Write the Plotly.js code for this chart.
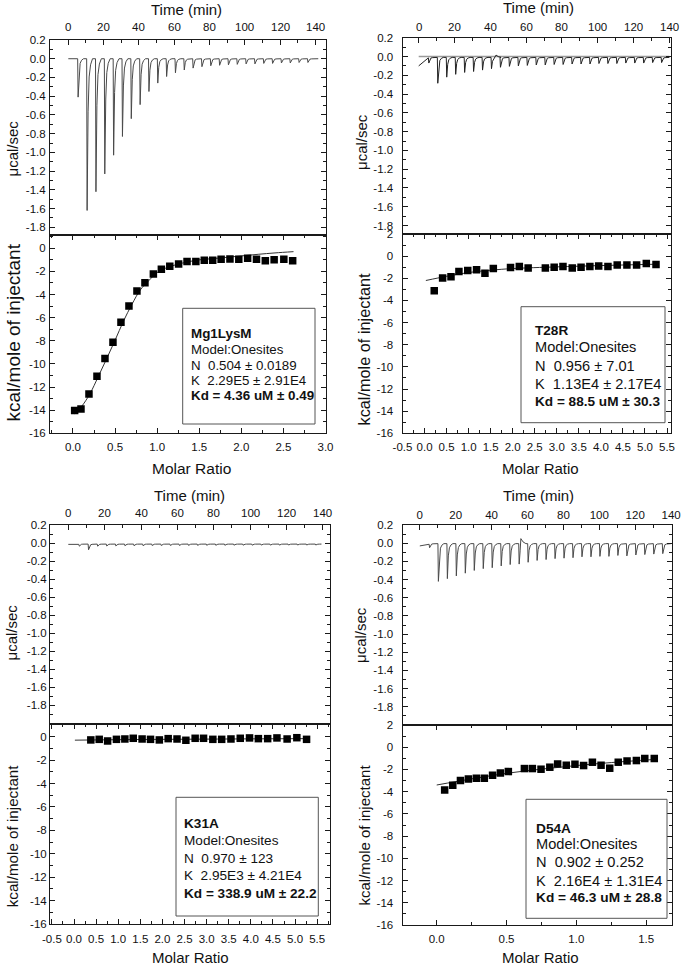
<!DOCTYPE html>
<html><head><meta charset="utf-8">
<script src="https://cdn.plot.ly/plotly-3.0.1.min.js"></script>
<style>html,body{margin:0;padding:0;background:#fff;overflow:hidden}#chart{width:682px;height:967px}</style>
</head><body><div id="chart"></div>
<script>
// ---------------- DATA ----------------
// Raw thermograms (time in min, heat rate in ucal/sec)
const injT1 = [5.3,10.4,15.4,20.4,25.4,30.4,35.4,40.4,45.4,50.4,55.4,60.4,65.4,70.4,75.4,80.4,85.4,90.4,95.4,100.4,105.4,110.4,115.4,120.4,125.4,130.4,135.4];
const peak1 = [-0.41,-1.62,-1.42,-1.23,-1.03,-0.83,-0.64,-0.49,-0.35,-0.26,-0.19,-0.15,-0.12,-0.10,-0.085,-0.075,-0.07,-0.065,-0.06,-0.055,-0.055,-0.05,-0.05,-0.045,-0.045,-0.04,-0.04];
const lead1T = [0]; const lead1Y = [0]; const base1 = 0; const end1 = 141.5;
const bump1T = []; const bump1Y = [];

const injT2 = [5.4,10.4,15.4,20.4,25.4,30.4,35.4,40.4,45.4,50.4,55.4,60.4,65.4,70.4,75.4,80.4,85.4,90.4,95.4,100.4,105.4,110.4,115.4,120.4,125.4,130.4,135.4];
const peak2 = [-0.07,-0.285,-0.22,-0.19,-0.17,-0.16,-0.145,-0.13,-0.115,-0.105,-0.10,-0.095,-0.09,-0.09,-0.085,-0.085,-0.08,-0.08,-0.08,-0.075,-0.075,-0.075,-0.07,-0.07,-0.07,-0.065,-0.065];
const lead2T = [0,5.2]; const lead2Y = [-0.10,-0.015]; const base2 = -0.01; const end2 = 140;
const bump2T = [43.2]; const bump2Y = [0.015];

const injT3 = [5.8,10.9,15.9,20.9,25.9,30.9,35.9,40.9,45.9,50.9,55.9,60.9,65.9,70.9,75.9,80.9,85.9,90.9,95.9,100.9,105.9,110.9,115.9,120.9,125.9,130.9,135.9];
const peak3 = [-0.035,-0.075,-0.035,-0.033,-0.032,-0.03,-0.03,-0.03,-0.028,-0.028,-0.027,-0.027,-0.026,-0.026,-0.025,-0.025,-0.025,-0.024,-0.024,-0.024,-0.023,-0.023,-0.023,-0.022,-0.022,-0.022,-0.022];
const lead3T = [0]; const lead3Y = [-0.015]; const base3 = -0.012; const end3 = 139;
const bump3T = []; const bump3Y = [];

const injT4 = [5.2,10.1,15.1,20.1,25.1,30.1,35.1,40.1,45.1,50.1,55.1,60.1,65.1,70.1,75.1,80.1,85.1,90.1,95.1,100.1,105.1,110.1,115.1,120.1,125.1,130.1,135.1];
const peak4 = [-0.05,-0.42,-0.39,-0.36,-0.33,-0.30,-0.28,-0.27,-0.25,-0.235,-0.23,-0.21,-0.19,-0.18,-0.17,-0.165,-0.16,-0.15,-0.15,-0.145,-0.145,-0.135,-0.14,-0.13,-0.125,-0.12,-0.115];
const lead4T = [0,4.8]; const lead4Y = [-0.03,-0.012]; const base4 = -0.005; const end4 = 140;
const bump4T = [56.3]; const bump4Y = [0.05];

// Integrated heats (molar ratio, kcal/mole of injectant)
const ratio1 = [0.02,0.095,0.19,0.285,0.38,0.475,0.57,0.665,0.76,0.855,0.955,1.05,1.15,1.255,1.355,1.46,1.56,1.66,1.76,1.865,1.97,2.075,2.18,2.285,2.39,2.505,2.61];
const heat1 = [-14.03,-13.9,-12.6,-11.07,-9.54,-8.13,-6.4,-4.99,-3.69,-2.97,-2.22,-1.82,-1.56,-1.35,-1.15,-1.15,-1.04,-1.04,-0.95,-0.92,-0.95,-0.86,-0.95,-1.07,-0.98,-0.95,-1.07];
const fitX1 = [0.02,0.1,0.2,0.3,0.4,0.5,0.6,0.7,0.8,0.9,1.0,1.1,1.2,1.3,1.4,1.5,1.6,1.8,2.0,2.2,2.4,2.62];
const fitY1 = [-14.3,-13.7,-12.6,-11.1,-9.55,-7.95,-6.3,-4.85,-3.6,-2.8,-2.1,-1.72,-1.47,-1.28,-1.12,-1.0,-0.93,-0.8,-0.66,-0.52,-0.4,-0.29];

const ratio2 = [0.22,0.41,0.60,0.78,0.98,1.18,1.37,1.56,1.95,2.15,2.35,2.74,2.94,3.14,3.35,3.55,3.75,3.95,4.16,4.37,4.59,4.81,5.03,5.25];
const heat2 = [-3.12,-1.97,-1.85,-1.39,-1.30,-1.24,-1.55,-1.12,-1.03,-0.94,-1.06,-1.06,-1.0,-0.94,-1.06,-1.0,-0.94,-0.88,-0.94,-0.79,-0.79,-0.79,-0.67,-0.76];
const fitX2 = [0.03,0.5,1.0,1.5,2.0,3.0,4.0,5.25];
const fitY2 = [-2.2,-1.82,-1.48,-1.27,-1.12,-0.97,-0.85,-0.73];

const ratio3 = [0.38,0.57,0.76,0.96,1.15,1.34,1.54,1.73,1.93,2.13,2.33,2.53,2.74,2.93,3.14,3.34,3.55,3.76,3.97,4.17,4.38,4.59,4.82,5.04,5.26];
const heat3 = [-0.28,-0.23,-0.37,-0.23,-0.2,-0.14,-0.2,-0.23,-0.28,-0.17,-0.2,-0.31,-0.14,-0.14,-0.23,-0.23,-0.2,-0.14,-0.11,-0.17,-0.17,-0.11,-0.2,-0.09,-0.23];
const fitX3 = [0.02,1.0,2.0,3.0,4.0,5.26];
const fitY3 = [-0.3,-0.26,-0.23,-0.21,-0.19,-0.17];

const ratio4 = [0.057,0.115,0.17,0.227,0.284,0.341,0.40,0.456,0.513,0.628,0.685,0.747,0.81,0.866,0.928,0.99,1.052,1.115,1.177,1.239,1.30,1.363,1.43,1.49,1.558];
const heat4 = [-3.84,-3.42,-3.0,-2.85,-2.79,-2.79,-2.52,-2.31,-2.19,-1.92,-1.92,-1.98,-1.80,-1.50,-1.62,-1.53,-1.65,-1.35,-1.62,-1.89,-1.35,-1.23,-1.20,-1.02,-1.02];
const fitX4 = [0.0,0.25,0.5,0.75,1.0,1.25,1.56];
const fitY4 = [-3.4,-2.85,-2.35,-1.97,-1.65,-1.38,-1.1];

// Fit result labels
const box1 = ["<b>Mg1LysM</b>","Model:Onesites","N\u00a0 0.504 ± 0.0189","K\u00a0 2.29E5 ± 2.91E4","<b>Kd = 4.36 uM ± 0.49</b>"];
const box2 = ["<b>T28R</b>","Model:Onesites","N\u00a0 0.956 ± 7.01","K\u00a0 1.13E4 ± 2.17E4","<b>Kd = 88.5 uM ± 30.3</b>"];
const box3 = ["<b>K31A</b>","Model:Onesites","N\u00a0 0.970 ± 123","K\u00a0 2.95E3 ± 4.21E4","<b>Kd = 338.9 uM ± 22.2</b>"];
const box4 = ["<b>D54A</b>","Model:Onesites","N\u00a0 0.902 ± 0.252","K\u00a0 2.16E4 ± 1.31E4","<b>Kd = 46.3 uM ± 28.8</b>"];

// Tick labels
const timeTickVals = [0,20,40,60,80,100,120,140];
const timeTickText = ["0","20","40","60","80","100","120","140"];
const powTickVals = [0.2,0.0,-0.2,-0.4,-0.6,-0.8,-1.0,-1.2,-1.4,-1.6,-1.8];
const powTickText = ["0.2","0.0","-0.2","-0.4","-0.6","-0.8","-1.0","-1.2","-1.4","-1.6","-1.8"];
const heatTickVals = [2,0,-2,-4,-6,-8,-10,-12,-14,-16];
const heatTickText = ["2","0","-2","-4","-6","-8","-10","-12","-14","-16"];
const ratioTickValsA = [0,0.5,1.0,1.5,2.0,2.5,3.0];
const ratioTickTextA = ["0.0","0.5","1.0","1.5","2.0","2.5","3.0"];
const ratioTickValsB = [-0.5,0,0.5,1.0,1.5,2.0,2.5,3.0,3.5,4.0,4.5,5.0,5.5];
const ratioTickTextB = ["-0.5","0.0","0.5","1.0","1.5","2.0","2.5","3.0","3.5","4.0","4.5","5.0","5.5"];
const ratioTickValsC = [0,0.5,1.0,1.5];
const ratioTickTextC = ["0.0","0.5","1.0","1.5"];

const timeTitle = "Time (min)";
const powTitle = "μcal/sec";
const heatTitle = "kcal/mole of injectant";
const ratioTitle = "Molar Ratio";

// ---------------- BUILD ----------------
function thermo(leadT, leadY, injT, peak, base, bumpT, bumpY, tEnd) {
  const xs = leadT.slice(), ys = leadY.slice();
  for (let i = 0; i < injT.length; i++) {
    const t = injT[i], p = peak[i];
    const b0 = (i === 0 && leadY.length) ? leadY[leadY.length - 1] : base;
    xs.push(t); ys.push(b0);
    xs.push(t + 0.25); ys.push(p);
    xs.push(t + 0.8); ys.push(base + (p - base) * 0.35);
    let bi = -1;
    for (let k = 0; k < bumpT.length; k++) if (bumpT[k] > t && bumpT[k] < t + 5) bi = k;
    if (bi >= 0) {
      xs.push(bumpT[bi]); ys.push(bumpY[bi]);
      xs.push(bumpT[bi] + 1.2); ys.push(base + (bumpY[bi] - base) * 0.35);
      xs.push(bumpT[bi] + 2.8); ys.push(base);
    } else {
      xs.push(t + 1.4); ys.push(base + (p - base) * 0.12);
      xs.push(t + 2.2); ys.push(base + (p - base) * 0.04);
      xs.push(t + 3.3); ys.push(base);
    }
  }
  xs.push(tEnd); ys.push(base);
  return {x: xs, y: ys};
}

const W = 682, H = 967;
const FONT = '"Liberation Sans", Arial, Helvetica, sans-serif';
const AX = '#1a1a1a';
const TICK = 11.5;

const panels = [
  {x0:50, x1:325.5, top:40, mid:235, bot:433.3, tR:[-10.36,145.6], uR:[-1.882,0.2], mR:[-0.273,3.0], kR:[-16,1.15],
   mV:ratioTickValsA, mT:ratioTickTextA, ySt:1, tLab:27.3, mSt:3, nativeTime:false,
   th: thermo(lead1T,lead1Y,injT1,peak1,base1,bump1T,bump1Y,end1), rx:ratio1, ry:heat1, fx:fitX1, fy:fitY1, grayBase:false,
   titles:{time:[186.3,9.5], pow:[12.5,149], heat:[12.5,333], ratio:[191.7,468]}, heatSize:19, ratioSize:15.5,
   box:[182.7,308.3,315,424], boxText:box1, textX:189, lines:[333.3,349.3,365,380.5,395.7], boxFont:13.3, boldFont:13.4},
  {x0:402.5, x1:671, top:37.7, mid:234, bot:433.3, tR:[-9.05,140.9], uR:[-1.89,0.2], mR:[-0.5,5.59], kR:[-16,2],
   mV:ratioTickValsB, mT:ratioTickTextB, ySt:6, tLab:27.3, mSt:3, nativeTime:false,
   th: thermo(lead2T,lead2Y,injT2,peak2,base2,bump2T,bump2Y,end2), rx:ratio2, ry:heat2, fx:fitX2, fy:fitY2, grayBase:true,
   titles:{time:[538,7.5], pow:[362,142], heat:[363.5,349], ratio:[540.8,468]}, heatSize:16.3, ratioSize:15,
   box:[521,306.7,665,422.7], boxText:box2, textX:532.7, lines:[330,347.3,366,384,401.7], boxFont:14.6, boldFont:13.6},
  {x0:50, x1:330, top:525, mid:724, bot:924, tR:[-10.07,144.0], uR:[-2.01,0.2], mR:[-0.543,5.79], kR:[-16,1.08],
   mV:ratioTickValsB, mT:ratioTickTextB, ySt:0, tLab:513.3, mSt:4, nativeTime:false,
   th: thermo(lead3T,lead3Y,injT3,peak3,base3,bump3T,bump3Y,end3), rx:ratio3, ry:heat3, fx:fitX3, fy:fitY3, grayBase:false,
   titles:{time:[190,495], pow:[10.5,633], heat:[12.5,835.8], ratio:[190.8,957]}, heatSize:15.2, ratioSize:15,
   box:[176,797.3,318.3,916], boxText:box3, textX:182.3, lines:[823.3,840,858.3,875.7,893.3], boxFont:13.6, boldFont:13.6},
  {x0:402.5, x1:672, top:525, mid:725, bot:925, tR:[-9.64,140.5], uR:[-2.0,0.2], mR:[-0.245,1.685], kR:[-16,2],
   mV:ratioTickValsC, mT:ratioTickTextC, ySt:6, tLab:513.3, mSt:3, nativeTime:true,
   th: thermo(lead4T,lead4Y,injT4,peak4,base4,bump4T,bump4Y,end4), rx:ratio4, ry:heat4, fx:fitX4, fy:fitY4, grayBase:false,
   titles:{time:[538.8,495], pow:[360,635], heat:[363.5,835], ratio:[540.8,957]}, heatSize:15, ratioSize:15,
   box:[526,799.3,667,918.3], boxText:box4, textX:533.7, lines:[828.3,844.3,862.3,880.7,897.3], boxFont:14.6, boldFont:13.7}
];

const px = v => v / W;
const py = v => 1 - v / H;

const data = [];
const layout = {
  width: W, height: H, margin: {l:0, r:0, t:0, b:0}, showlegend: false,
  paper_bgcolor: '#fff', plot_bgcolor: 'rgba(0,0,0,0)',
  font: {family: FONT, color: '#111'},
  annotations: [], shapes: []
};

function axisBase(extra) {
  return Object.assign({
    showline: true, linecolor: AX, linewidth: 1, mirror: 'ticks',
    ticks: 'inside', ticklen: 5, tickwidth: 1, tickcolor: AX,
    showgrid: false, zeroline: false, fixedrange: true,
    tickfont: {family: FONT, size: TICK, color: '#111'},
    tickmode: 'array', ticklabeloverflow: 'allow'
  }, extra);
}

panels.forEach((p, i) => {
  const a = 2 * i + 1, b = 2 * i + 2;
  const xa = 'x' + (a === 1 ? '' : a), ya = 'y' + (a === 1 ? '' : a);
  const xb = 'x' + b, yb = 'y' + b;
  const dom = [px(p.x0), px(p.x1)];

  layout['xaxis' + (a === 1 ? '' : a)] = axisBase({
    domain: dom, anchor: ya, side: 'top', range: p.tR, mirror: true,
    tickvals: timeTickVals, ticktext: timeTickText, showticklabels: p.nativeTime,
    minor: {tickmode: 'linear', tick0: 0, dtick: 10, ticks: 'inside', ticklen: 3, tickcolor: AX, showgrid: false}
  });
  layout['yaxis' + (a === 1 ? '' : a)] = axisBase({
    domain: [py(p.mid), py(p.top)], anchor: xa, range: p.uR,
    tickvals: powTickVals, ticktext: powTickText, ticklabelstandoff: p.ySt,
    minor: {tickmode: 'linear', tick0: 0, dtick: 0.1, ticks: 'inside', ticklen: 3, tickcolor: AX, showgrid: false}
  });
  layout['xaxis' + b] = axisBase({
    domain: dom, anchor: yb, side: 'bottom', range: p.mR,
    tickvals: p.mV, ticktext: p.mT, ticklabelstandoff: p.mSt,
    minor: {tickmode: 'linear', tick0: 0, dtick: 0.25, ticks: 'inside', ticklen: 3, tickcolor: AX, showgrid: false}
  });
  layout['yaxis' + b] = axisBase({
    domain: [py(p.bot), py(p.mid)], anchor: xb, range: p.kR,
    tickvals: heatTickVals, ticktext: heatTickText, ticklabelstandoff: p.ySt,
    minor: {tickmode: 'linear', tick0: 0, dtick: 1, ticks: 'inside', ticklen: 3, tickcolor: AX, showgrid: false}
  });

  // time tick labels placed through the time axis scale
  if (!p.nativeTime) {
    timeTickVals.forEach((v, k) => layout.annotations.push({
      text: timeTickText[k], xref: xa, yref: 'paper', x: v, y: py(p.tLab), xanchor: 'center', yanchor: 'middle',
      showarrow: false, borderpad: 0, borderwidth: 0, font: {family: FONT, size: TICK, color: '#111'}
    }));
  }

  if (p.grayBase) {
    data.push({x: [0, p.th.x[p.th.x.length - 1]], y: [0, 0], xaxis: xa, yaxis: ya, mode: 'lines',
      line: {color: '#9a9a9a', width: 1.6}, hoverinfo: 'skip'});
  }
  data.push({x: p.th.x, y: p.th.y, xaxis: xa, yaxis: ya, mode: 'lines',
    line: {color: p.grayBase ? '#222' : '#4a4a4a', width: 1}, hoverinfo: 'skip'});
  data.push({x: p.fx, y: p.fy, xaxis: xb, yaxis: yb, mode: 'lines', line: {color: '#333', width: 1, shape: 'spline'}, hoverinfo: 'skip'});
  data.push({x: p.rx, y: p.ry, xaxis: xb, yaxis: yb, mode: 'markers',
    marker: {symbol: 'square', size: 7.5, color: '#000', line: {width: 0}}, hoverinfo: 'skip'});

  const T = p.titles;
  const ann = (txt, xy, size, angle) => layout.annotations.push({
    text: txt, xref: 'paper', yref: 'paper', x: px(xy[0]), y: py(xy[1]), xanchor: 'center', yanchor: 'middle',
    showarrow: false, textangle: angle || 0, font: {family: FONT, size: size, color: '#111'}
  });
  ann(timeTitle, T.time, 15);
  ann(powTitle, T.pow, 15, -90);
  ann(heatTitle, T.heat, p.heatSize, -90);
  ann(ratioTitle, T.ratio, p.ratioSize);

  layout.shapes.push({type: 'rect', xref: 'paper', yref: 'paper',
    x0: px(p.box[0]), x1: px(p.box[2]), y0: py(p.box[3]), y1: py(p.box[1]),
    line: {color: '#555', width: 1}, fillcolor: 'rgba(255,255,255,0)'});
  p.boxText.forEach((t, j) => layout.annotations.push({
    text: t, xref: 'paper', yref: 'paper', x: px(p.textX), y: py(p.lines[j]), xanchor: 'left', yanchor: 'middle',
    showarrow: false, font: {family: FONT, size: t.indexOf('<b>') === 0 ? p.boldFont : p.boxFont, color: '#111'}
  }));
});

Plotly.newPlot('chart', data, layout, {staticPlot: true, displayModeBar: false});
</script></body></html>
